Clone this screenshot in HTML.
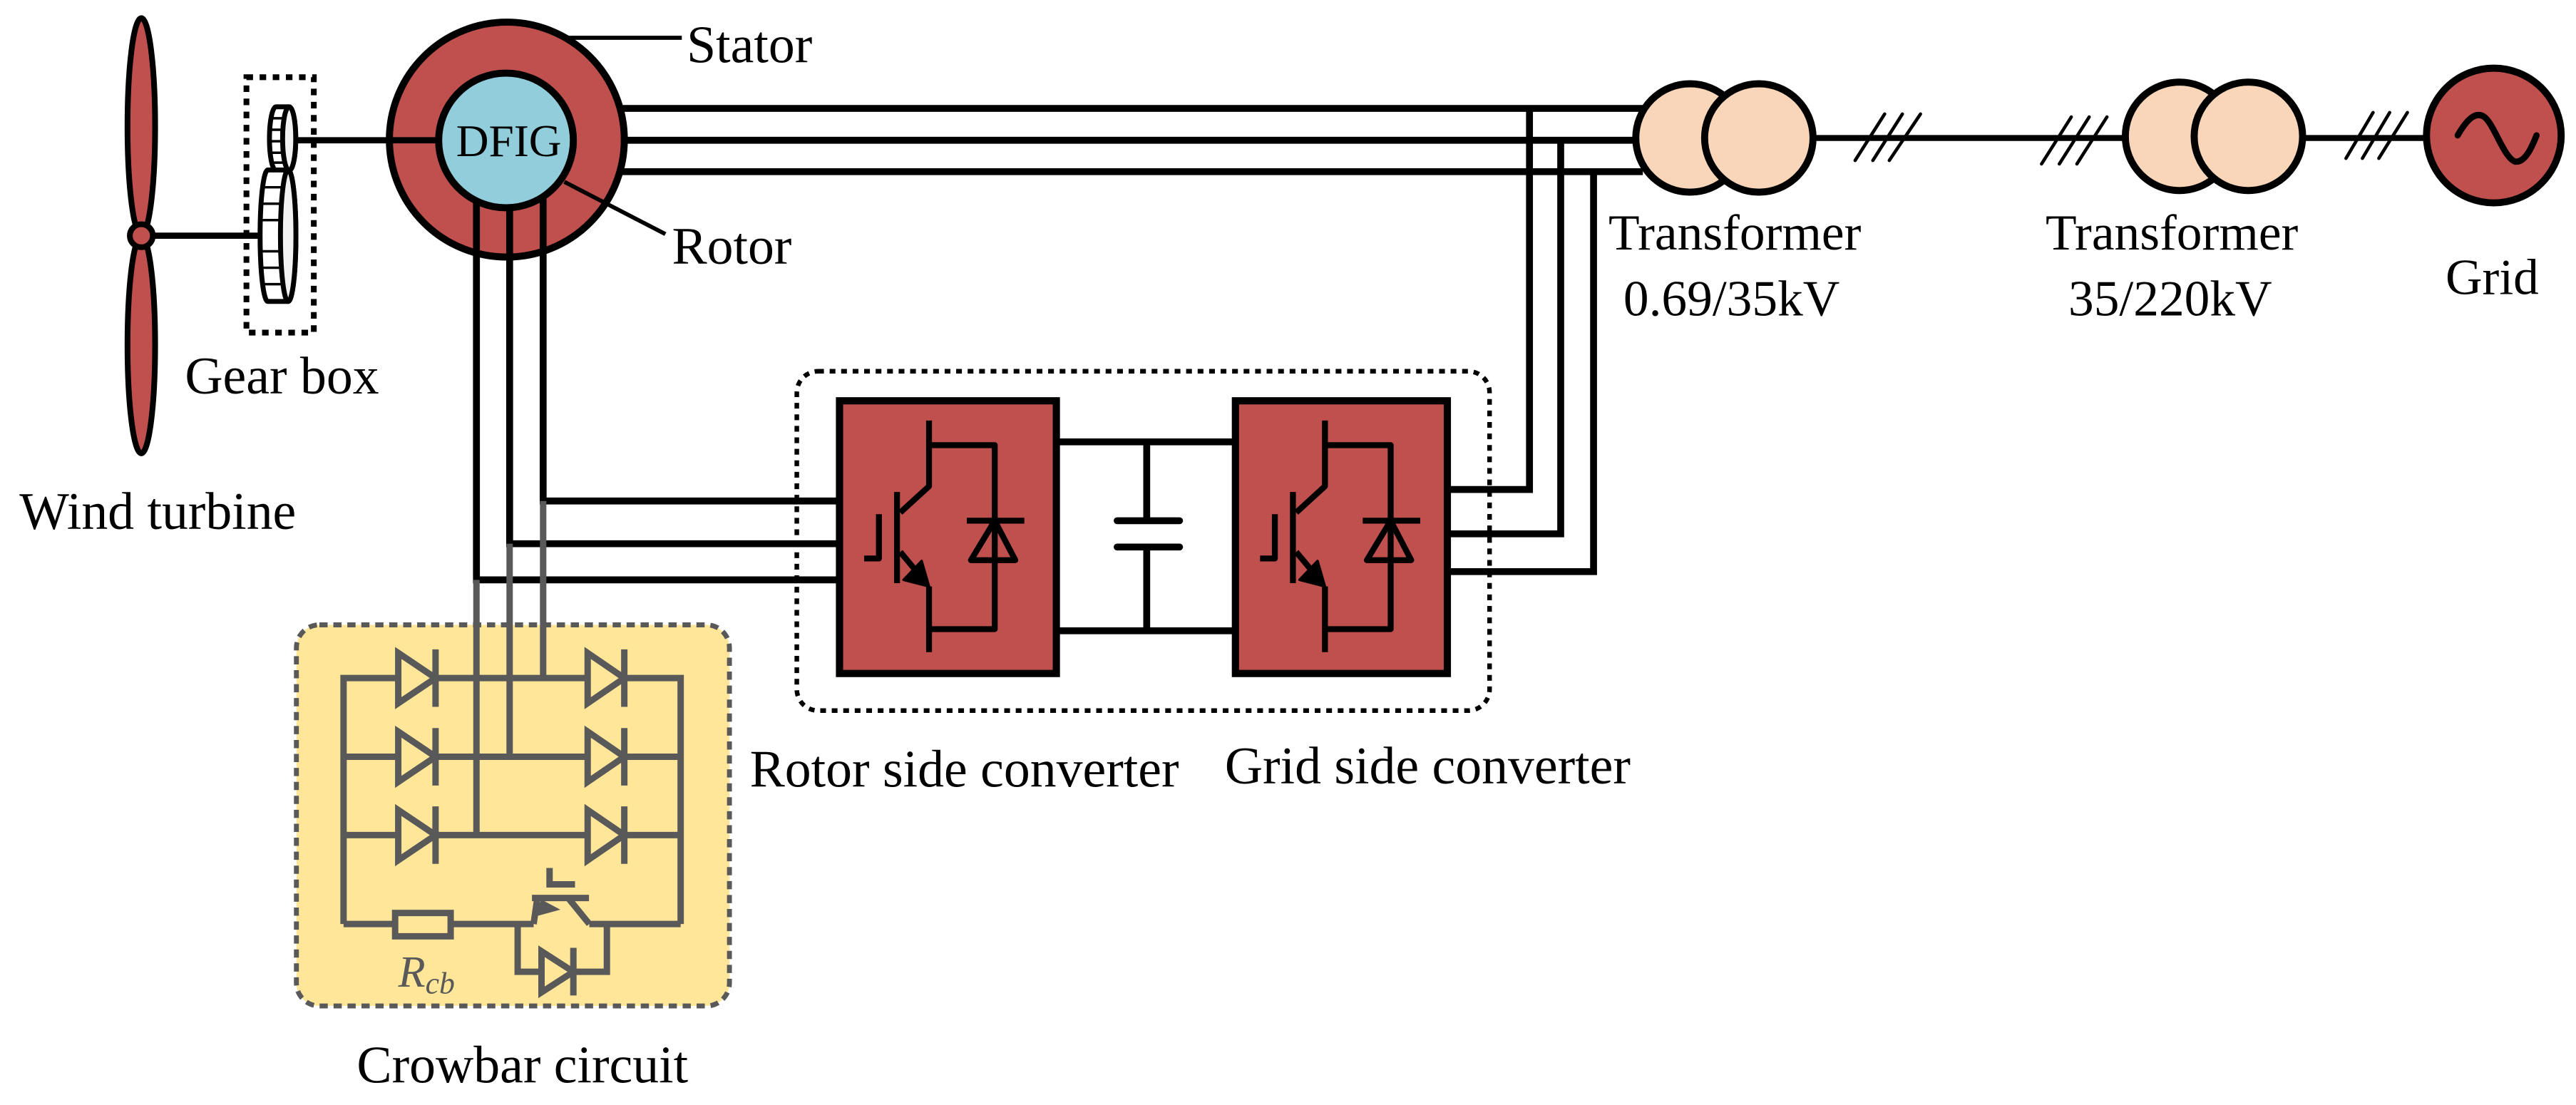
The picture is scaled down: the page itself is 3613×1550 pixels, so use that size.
<!DOCTYPE html>
<html><head><meta charset="utf-8"><style>html,body{margin:0;padding:0;background:#fff}svg{display:block}text{font-family:"Liberation Serif",serif;fill:#000}</style></head>
<body>
<svg width="3613" height="1550" viewBox="0 0 1568 672.7" xmlns="http://www.w3.org/2000/svg">
<!-- Wind turbine -->
<ellipse cx="86" cy="77" rx="8.4" ry="66" fill="#C0504D" stroke="#000" stroke-width="3.5"/>
<ellipse cx="86" cy="210" rx="8.4" ry="66" fill="#C0504D" stroke="#000" stroke-width="3.5"/>
<line x1="86" y1="143.5" x2="160" y2="143.5" stroke="#000" stroke-width="3.8"/>
<circle cx="86" cy="143.5" r="7" fill="#C0504D" stroke="#000" stroke-width="3.5"/>
<text x="96" y="322" font-size="32" text-anchor="middle">Wind turbine</text>
<!-- Gear box -->
<rect x="150" y="47" width="41" height="155.5" fill="none" stroke="#000" stroke-width="3.5" stroke-dasharray="4 4"/>
<line x1="176" y1="85.4" x2="240" y2="85.4" stroke="#000" stroke-width="3.8"/>
<path d="M168,65 L176,65 A4,19.4 0 0 1 176,103.8 L168,103.8 A4,19.4 0 0 1 168,65 Z" fill="#fff" stroke="#000" stroke-width="3"/>
<ellipse cx="176" cy="84.4" rx="4" ry="19.4" fill="#f2f2f2" stroke="#000" stroke-width="3"/>
<g stroke="#000" stroke-width="1.5"><line x1="166" y1="72" x2="173" y2="72"/><line x1="165" y1="79" x2="172" y2="79"/><line x1="165" y1="86" x2="172" y2="86"/><line x1="165" y1="93" x2="172" y2="93"/><line x1="166" y1="99" x2="173" y2="99"/></g>
<path d="M163,103.5 L175.4,103.5 A4.7,40 0 0 1 175.4,183.5 L163,183.5 A4.7,40 0 0 1 163,103.5 Z" fill="#fff" stroke="#000" stroke-width="3"/>
<ellipse cx="175.4" cy="143.5" rx="4.7" ry="40" fill="#f2f2f2" stroke="#000" stroke-width="3"/>
<g stroke="#000" stroke-width="1.5"><line x1="160" y1="114" x2="171" y2="114"/><line x1="159" y1="124" x2="171" y2="124"/><line x1="159" y1="134" x2="171" y2="134"/><line x1="159" y1="153" x2="171" y2="153"/><line x1="159" y1="163" x2="171" y2="163"/><line x1="160" y1="173" x2="171" y2="173"/></g>
<text x="171.6" y="239.5" font-size="32" text-anchor="middle">Gear box</text>
<!-- stator lines -->
<g stroke="#000" stroke-width="4.2" fill="none">
<polyline points="370,66 1000,66"/>
<polyline points="370,85.4 1000,85.4"/>
<polyline points="370,104.5 1000,104.5"/>
<polyline points="931,66 931,298 881,298"/>
<polyline points="950,85.4 950,325 881,325"/>
<polyline points="970,104.5 970,348 881,348"/>
</g>
<!-- DFIG -->
<circle cx="308.5" cy="85" r="71.5" fill="#C0504D" stroke="#000" stroke-width="4.3"/>
<line x1="236" y1="85.4" x2="270" y2="85.4" stroke="#000" stroke-width="3.8"/>
<g stroke="#000" stroke-width="4.2" fill="none">
<polyline points="330.6,120 330.6,305 512,305"/>
<polyline points="310.2,125 310.2,331 512,331"/>
<polyline points="290,120 290,353 512,353"/>
</g>
<circle cx="308" cy="85.5" r="41" fill="#92CDDC" stroke="#000" stroke-width="4.3"/>
<text x="309.7" y="95" font-size="27.5" text-anchor="middle">DFIG</text>
<line x1="346" y1="23" x2="415" y2="23" stroke="#000" stroke-width="2.5"/>
<text x="418" y="38" font-size="32">Stator</text>
<line x1="343.5" y1="110.7" x2="405" y2="142.5" stroke="#000" stroke-width="2.5"/>
<text x="409" y="160.6" font-size="32">Rotor</text>
<!-- crowbar -->
<rect x="180.4" y="380.4" width="263.6" height="232" rx="14" fill="#FFE699" stroke="#595959" stroke-width="3" stroke-dasharray="5 3.5"/>
<g stroke="#595959" stroke-width="3.9" fill="none" stroke-linejoin="miter">
<line x1="330.6" y1="305" x2="330.6" y2="412.8"/>
<line x1="310.2" y1="331" x2="310.2" y2="460.7"/>
<line x1="290" y1="353" x2="290" y2="508.4"/>
<polyline points="209.1,562.5 209.1,412.8 414.3,412.8 414.3,562.5"/>
<line x1="209.1" y1="460.7" x2="414.3" y2="460.7"/>
<line x1="209.1" y1="508.4" x2="414.3" y2="508.4"/>
<polyline points="209.1,562.5 240.5,562.5"/>
<rect x="240.5" y="555.8" width="33.8" height="14.2" fill="#FFE699"/>
<polyline points="274.3,562.5 324.8,562.5"/>
<polyline points="358.7,562.5 414.3,562.5"/>
<polyline points="315.1,562.5 315.1,591.6 369.4,591.6 369.4,562.5"/>
<g fill="#FFE699">
<polygon points="242.4,397.5 265.1,412.8 242.4,428.1"/><line x1="265.1" y1="395.3" x2="265.1" y2="430.3"/>
<polygon points="242.4,445.4 265.1,460.7 242.4,476"/><line x1="265.1" y1="443.2" x2="265.1" y2="478.2"/>
<polygon points="242.4,493.1 265.1,508.4 242.4,523.7"/><line x1="265.1" y1="490.9" x2="265.1" y2="525.9"/>
<polygon points="357.7,397.5 380,412.8 357.7,428.1"/><line x1="380" y1="395.3" x2="380" y2="430.3"/>
<polygon points="357.7,445.4 380,460.7 357.7,476"/><line x1="380" y1="443.2" x2="380" y2="478.2"/>
<polygon points="357.7,493.1 380,508.4 357.7,523.7"/><line x1="380" y1="490.9" x2="380" y2="525.9"/>
<polygon points="329.6,579.1 349,591.6 329.6,604.1"/><line x1="349" y1="577" x2="349" y2="606"/>
</g>
<line x1="323.8" y1="546.7" x2="358.5" y2="546.7"/>
<polyline points="334.5,528.4 334.5,538.4 350,538.4"/>
<line x1="324.8" y1="562.5" x2="327" y2="547"/>
<line x1="346.1" y1="547" x2="358.7" y2="562.5"/>
</g>
<polygon points="325.5,557 330,549 338.4,553.5" fill="#595959" stroke="#595959" stroke-width="2"/>
<text x="242.4" y="600.7" font-size="27" font-style="italic" style="fill:#595959">R<tspan font-size="19" dy="4">cb</tspan></text>
<text x="318" y="659" font-size="32" text-anchor="middle">Crowbar circuit</text>
<!-- converters -->
<g stroke="#000" stroke-width="4.2" fill="none">
<line x1="643" y1="269" x2="752" y2="269"/>
<line x1="643" y1="384" x2="752" y2="384"/>
<line x1="698" y1="269" x2="698" y2="317"/>
<line x1="698" y1="333" x2="698" y2="384"/>
<line x1="680" y1="317" x2="718" y2="317" stroke-linecap="round"/>
<line x1="680" y1="333" x2="718" y2="333" stroke-linecap="round"/>
</g>
<rect x="511" y="244" width="132" height="166" fill="#C0504D" stroke="#000" stroke-width="4.4"/>
<rect x="752" y="244" width="129" height="166" fill="#C0504D" stroke="#000" stroke-width="4.4"/>
<g id="sw" stroke="#000" stroke-width="3.6" fill="none" stroke-linejoin="round">
<polyline points="565.5,256 565.5,296 548,312"/>
<line x1="546" y1="299.5" x2="546" y2="355"/>
<polyline points="535,313 535,340 526,340"/>
<line x1="548" y1="336" x2="563" y2="354"/>
<line x1="565.5" y1="357" x2="565.5" y2="397"/>
<polyline points="565.5,271 605.5,271 605.5,383 565.5,383"/>
<line x1="588.5" y1="317" x2="623.5" y2="317"/>
<polygon points="605.5,317 591,341 618,341"/>
<polygon points="565.5,357 550,353 561,341.5" fill="#000" stroke-width="1.5"/>
</g>
<use href="#sw" x="241"/>
<rect x="485" y="226" width="421.7" height="206.6" rx="13" fill="none" stroke="#000" stroke-width="2.8" stroke-dasharray="3.5 3.5"/>
<text x="587" y="479" font-size="32" text-anchor="middle">Rotor side converter</text>
<text x="869" y="477" font-size="32" text-anchor="middle">Grid side converter</text>
<!-- grid side -->
<g stroke="#000" stroke-width="3.6">
<line x1="1100" y1="84" x2="1300" y2="84"/>
<line x1="1395" y1="84" x2="1480" y2="84"/>
</g>
<circle cx="1028.7" cy="84" r="33" fill="#F9D6B9" stroke="#000" stroke-width="4.3"/>
<circle cx="1070.6" cy="84" r="33" fill="#F9D6B9" stroke="#000" stroke-width="4.3"/>
<circle cx="1326.7" cy="83" r="33" fill="#F9D6B9" stroke="#000" stroke-width="4.3"/>
<circle cx="1368.6" cy="83" r="33" fill="#F9D6B9" stroke="#000" stroke-width="4.3"/>
<circle cx="1518" cy="82.5" r="41" fill="#C0504D" stroke="#000" stroke-width="4.3"/>
<path d="M1496,82.4 C1502,72 1507,68 1512,71 C1518,75 1524,96 1531,98.4 C1537,99 1541,90 1544,82.4" fill="none" stroke="#000" stroke-width="3.8" stroke-linecap="round"/>
<g stroke="#000" stroke-width="2" stroke-linecap="round">
<line x1="1129.2" y1="97.7" x2="1147.2" y2="69.4"/><line x1="1140" y1="97.7" x2="1158" y2="69.4"/><line x1="1150" y1="97.7" x2="1169" y2="69.4"/>
<line x1="1242.7" y1="99.8" x2="1260.8" y2="71.2"/><line x1="1253.5" y1="99.8" x2="1271.7" y2="71.2"/><line x1="1264.2" y1="99.8" x2="1282.5" y2="71.2"/>
<line x1="1428" y1="96.4" x2="1444.5" y2="68.5"/><line x1="1438" y1="96.4" x2="1454.6" y2="68.5"/><line x1="1448" y1="96.4" x2="1465.4" y2="68.5"/>
</g>
<text x="1056" y="152" font-size="31" text-anchor="middle">Transformer</text>
<text x="1054" y="192" font-size="31" text-anchor="middle">0.69/35kV</text>
<text x="1322" y="152" font-size="31" text-anchor="middle">Transformer</text>
<text x="1321" y="192" font-size="31" text-anchor="middle">35/220kV</text>
<text x="1517" y="179" font-size="31" text-anchor="middle">Grid</text>
</svg>
</body></html>
